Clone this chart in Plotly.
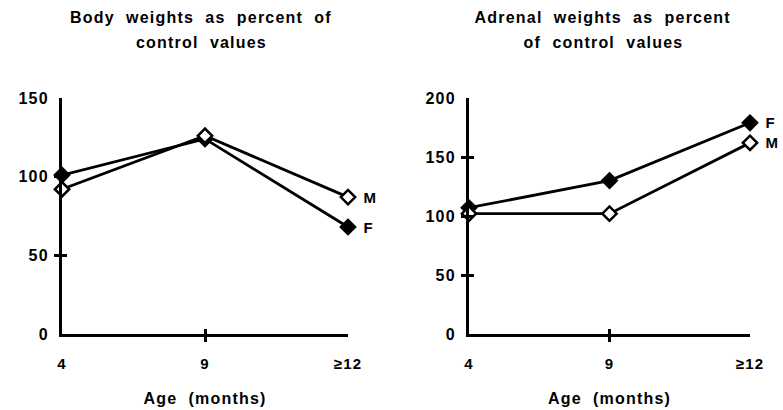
import plotly.graph_objects as go

ages = ["4", "9", "≥12"]
age_pos = [0, 1, 2]

body_F = [101, 124, 68]
body_M = [92, 126, 87]
adrenal_F = [107, 130, 179]
adrenal_M = [102, 102, 162]

body_yticks = [0, 50, 100, 150]
adrenal_yticks = [0, 50, 100, 150, 200]

title_body = ["Body  weights  as  percent  of", "control  values"]
title_adrenal = ["Adrenal  weights  as  percent", "of  control  values"]
xtitle = "Age  (months)"

FONT = "Arial, Liberation Sans, Helvetica, sans-serif"
W, H = 783, 410

fig = go.Figure()


def add_series(xa, ya, F, M):
    fig.add_trace(go.Scatter(
        x=age_pos, y=F, xaxis=xa, yaxis=ya, mode="lines+markers",
        line=dict(color="black", width=2.8),
        marker=dict(symbol="diamond", size=12, color="black",
                    line=dict(color="black", width=1.5)),
        cliponaxis=False, showlegend=False, name="F"))
    fig.add_trace(go.Scatter(
        x=age_pos, y=M, xaxis=xa, yaxis=ya, mode="lines+markers",
        line=dict(color="black", width=2.8),
        marker=dict(symbol="diamond", size=11, color="white",
                    line=dict(color="black", width=2.5)),
        cliponaxis=False, showlegend=False, name="M"))


add_series("x", "y", body_F, body_M)
add_series("x2", "y2", adrenal_F, adrenal_M)

ydom = [(H - 334) / H, (H - 98) / H]
bold15 = dict(family=FONT, size=15, color="black", weight="bold")
bold16 = dict(family=FONT, size=16, color="black", weight="bold")

xcommon = dict(
    range=[0, 2], tickmode="array", tickvals=age_pos, ticktext=ages,
    showline=True, linewidth=3, linecolor="black", mirror=False,
    ticks="inside", ticklen=5, tickwidth=3, tickcolor="black",
    minor=dict(ticks="outside", tickmode="array", tickvals=age_pos,
               ticklen=5, tickwidth=3, tickcolor="black"),
    showgrid=False, zeroline=False, fixedrange=True, automargin=False,
    tickfont=bold15, ticklabelstandoff=14,
    title=dict(text=xtitle, standoff=22, font=bold16),
)


def ycommon(ticks, top):
    return dict(
        range=[0, top], tickmode="array", tickvals=ticks,
        showline=True, linewidth=3, linecolor="black",
        ticks="inside", ticklen=5, tickwidth=3, tickcolor="black",
        minor=dict(ticks="outside", tickmode="array", tickvals=ticks,
                   ticklen=5, tickwidth=3, tickcolor="black"),
        showgrid=False, zeroline=False, fixedrange=True, automargin=False,
        tickfont=bold16, ticklabelstandoff=7,
        domain=ydom,
    )


fig.update_layout(
    width=W, height=H,
    margin=dict(l=0, r=0, t=0, b=0, autoexpand=False),
    paper_bgcolor="white", plot_bgcolor="white",
    xaxis=dict(domain=[62 / W, 348 / W], anchor="y", **xcommon),
    yaxis=dict(anchor="x", **ycommon(body_yticks, 150)),
    xaxis2=dict(domain=[469 / W, 750 / W], anchor="y2", **xcommon),
    yaxis2=dict(anchor="x2", **ycommon(adrenal_yticks, 200)),
)

for xa, ya, F, M in [("x", "y", body_F, body_M), ("x2", "y2", adrenal_F, adrenal_M)]:
    fig.add_annotation(x=age_pos[-1], y=F[-1], xref=xa, yref=ya, text="F",
                       showarrow=False, xanchor="left", xshift=14, font=bold15)
    fig.add_annotation(x=age_pos[-1], y=M[-1], xref=xa, yref=ya, text="M",
                       showarrow=False, xanchor="left", xshift=14, font=bold15)

for cx, lines in [(201, title_body), (603, title_adrenal)]:
    for cy, txt in zip([17, 43], lines):
        fig.add_annotation(x=cx / W, y=1 - cy / H, xref="paper", yref="paper",
                           text=txt, showarrow=False, xanchor="center",
                           yanchor="middle", font=bold16)

post = """
document.body.style.margin = '0';
document.querySelectorAll('.main-svg text').forEach(function(t){
  t.style.letterSpacing = '1.2px';
});
"""
fig.write_html("out.html", post_script=post,
               config={"displayModeBar": False, "staticPlot": True})
